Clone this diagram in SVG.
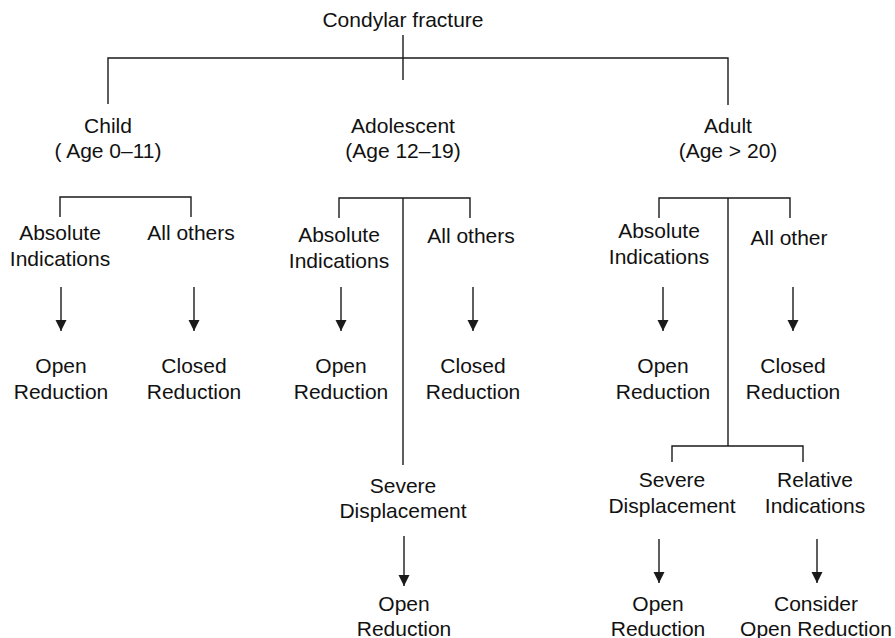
<svg xmlns="http://www.w3.org/2000/svg" width="895" height="638" viewBox="0 0 895 638">
  <style>
    text { font-family: "Liberation Sans", Arial, sans-serif; font-size: 21px; fill: #111; text-anchor: middle; }
    .ln { stroke: #1a1a1a; stroke-width: 1.4; fill: none; }
    .ar { stroke: #1a1a1a; stroke-width: 1.4; fill: none; marker-end: url(#head); }
  </style>
  <defs>
    <marker id="head" markerUnits="userSpaceOnUse" markerWidth="11" markerHeight="12" refX="11" refY="5.5" orient="auto">
      <path d="M0,0 L11,5.5 L0,11 z" fill="#1a1a1a"/>
    </marker>
  </defs>
  <rect width="895" height="638" fill="#fff"/>

  <!-- connectors -->
  <g id="connectors">
    <!-- root split -->
    <path class="ln" d="M403,35 V80 M108,104 V58 H728 V105"/>
    <!-- child split -->
    <path class="ln" d="M60,217 V197 H191 V217"/>
    <!-- adolescent split -->
    <path class="ln" d="M339,218 V198 H470 V218 M403,198 V465"/>
    <!-- adult split -->
    <path class="ln" d="M659,218 V198 H790 V218 M728,198 V446 M672,462 V446 H803 V462"/>
    <!-- arrows -->
    <line class="ar" x1="61" y1="287" x2="61" y2="331"/>
    <line class="ar" x1="194" y1="287" x2="194" y2="331"/>
    <line class="ar" x1="341" y1="287" x2="341" y2="331"/>
    <line class="ar" x1="473" y1="287" x2="473" y2="331"/>
    <line class="ar" x1="663" y1="287" x2="663" y2="331"/>
    <line class="ar" x1="793" y1="287" x2="793" y2="331"/>
    <line class="ar" x1="404" y1="536" x2="404" y2="586"/>
    <line class="ar" x1="659" y1="539" x2="659" y2="583"/>
    <line class="ar" x1="817" y1="539" x2="817" y2="583"/>
  </g>

  <g id="root"><text x="403" y="27">Condylar fracture</text></g>

  <g id="child"><text x="108" y="133">Child</text><text x="108" y="158">( Age 0–11)</text></g>
  <g id="adolescent"><text x="403" y="133">Adolescent</text><text x="403" y="158">(Age 12–19)</text></g>
  <g id="adult"><text x="728" y="133">Adult</text><text x="728" y="158">(Age &gt; 20)</text></g>

  <!-- child branch -->
  <g id="child-absolute"><text x="60" y="240">Absolute</text><text x="60" y="266">Indications</text></g>
  <g id="child-others"><text x="191" y="240">All others</text></g>
  <g id="child-open"><text x="61" y="373">Open</text><text x="61" y="399">Reduction</text></g>
  <g id="child-closed"><text x="194" y="373">Closed</text><text x="194" y="399">Reduction</text></g>

  <!-- adolescent branch -->
  <g id="adol-absolute"><text x="339" y="242">Absolute</text><text x="339" y="268">Indications</text></g>
  <g id="adol-others"><text x="471" y="243">All others</text></g>
  <g id="adol-open"><text x="341" y="373">Open</text><text x="341" y="399">Reduction</text></g>
  <g id="adol-closed"><text x="473" y="373">Closed</text><text x="473" y="399">Reduction</text></g>
  <g id="adol-severe"><text x="403" y="493">Severe</text><text x="403" y="518">Displacement</text></g>
  <g id="adol-severe-open"><text x="404" y="611">Open</text><text x="404" y="636">Reduction</text></g>

  <!-- adult branch -->
  <g id="adult-absolute"><text x="659" y="238">Absolute</text><text x="659" y="264">Indications</text></g>
  <g id="adult-other"><text x="789" y="245">All other</text></g>
  <g id="adult-open"><text x="663" y="373">Open</text><text x="663" y="399">Reduction</text></g>
  <g id="adult-closed"><text x="793" y="373">Closed</text><text x="793" y="399">Reduction</text></g>
  <g id="adult-severe"><text x="672" y="487">Severe</text><text x="672" y="513">Displacement</text></g>
  <g id="adult-relative"><text x="815" y="487">Relative</text><text x="815" y="513">Indications</text></g>
  <g id="adult-severe-open"><text x="658" y="611">Open</text><text x="658" y="636">Reduction</text></g>
  <g id="adult-consider"><text x="816" y="611">Consider</text><text x="816" y="636">Open Reduction</text></g>
</svg>
